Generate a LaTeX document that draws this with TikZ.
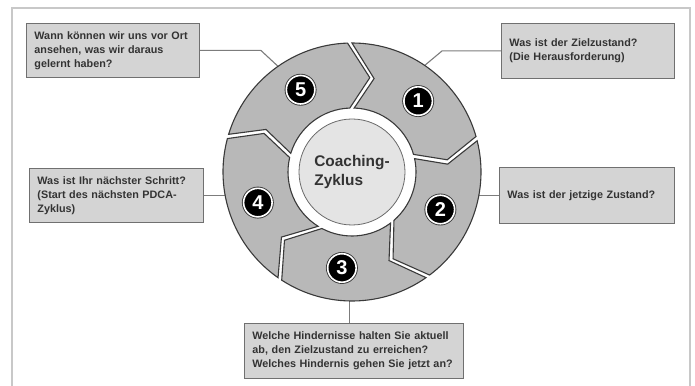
\documentclass[tikz,border=0pt]{standalone}
\usepackage{fontspec}
\setmainfont{Liberation Sans}
\usetikzlibrary{calc}
\definecolor{seggray}{HTML}{B8B8B8}
\definecolor{segline}{HTML}{3A3A3A}
\definecolor{boxfill}{HTML}{D4D4D4}
\definecolor{boxline}{HTML}{707070}
\definecolor{txt}{HTML}{333333}
\definecolor{hubfill}{HTML}{E4E4E4}
\definecolor{hubline}{HTML}{6A6A6A}
\definecolor{frameg}{HTML}{C8C8C8}
\definecolor{conn}{HTML}{7C7C7C}
\begin{document}
\begin{tikzpicture}[x=1pt,y=1pt,
  seg/.style={fill=seggray, draw=segline, line width=1.1pt, line join=miter},
  qbox/.style={draw=boxline, fill=boxfill, line width=0.9pt, text=txt,
    font=\bfseries\fontsize{10.8}{14}\selectfont, align=left,
    inner xsep=8pt, inner ysep=0pt, anchor=north west},
  conline/.style={draw=conn, line width=1.1pt},
  numc/.style={circle, fill=black, draw=white, line width=1.6pt, text=white,
    font=\bfseries\fontsize{20}{20}\selectfont, inner sep=0pt, minimum size=28.5pt,
    preaction={draw=segline, line width=3.4pt}},
  hub/.style={circle, fill=hubfill, draw=hubline, line width=0.8pt, minimum size=106pt,
    text=txt, font=\bfseries\fontsize{15.4}{19}\selectfont, align=left, inner sep=0pt},
  framest/.style={draw=frameg, line width=2pt}
]
\useasboundingbox (0,0) rectangle (695,385);
\draw[framest] (12,-3) -- (12,377) -- (690,377) -- (690,-3);

\coordinate (c) at (352,213);

% question boxes
\node[qbox, text width=157pt, minimum height=54pt] (b5) at (26,362)
  {Wann können wir uns vor Ort\\ansehen, was wir daraus\\gelernt haben?};
\node[qbox, text width=157pt, minimum height=55pt] (b1) at (501,362)
  {Was ist der Zielzustand?\\(Die Herausforderung)};
\node[qbox, text width=158pt, minimum height=54pt] (b4) at (29,217)
  {Was ist Ihr nächster Schritt?\\(Start des nächsten PDCA-\\Zyklus)};
\node[qbox, text width=159pt, minimum height=56pt] (b2) at (499,218)
  {Was ist der jetzige Zustand?};
\node[qbox, text width=203pt, minimum height=55pt] (b3) at (244,62)
  {Welche Hindernisse halten Sie aktuell\\ab, den Zielzustand zu erreichen?\\Welches Hindernis gehen Sie jetzt an?};

% attachment points on the wheel
\coordinate (w5) at ($(c)+(125:129)$);
\coordinate (w1) at ($(c)+(55.7:129)$);
\coordinate (w4) at ($(c)+(189.8:129)$);
\coordinate (w2) at ($(c)+(-9.4:129)$);
\coordinate (w3) at ($(c)+(-91:129)$);

% connectors
\draw[conline] (b5.east) -- ++(61,0) -- (w5);
\draw[conline] (b1.west) -- ++(-59,0) -- (w1);
\draw[conline] (b4.east) -- (b4.east -| w4);
\draw[conline] (b2.west) -- (b2.west -| w2);
\draw[conline] (b3.north -| w3) -- (w3);

% wheel segments
\foreach \oa/\ta/\ia/\ob/\tb/\ib in {91/78/90/15/6/14, 15/6/14/-54/-66/-51,
   -54/-66/-51/-124/-136/-120, -124/-136/-120/-196/-205/-195, 164/155/165/91/78/90}{
  \draw[seg] ($(c)+(\oa-0.98:129)$)
     arc[start angle=\oa-0.98, end angle=\ob+0.98, radius=129]
     -- ($(c)+(\tb+1.31:96)$) -- ($(c)+(\ib+1.97:64)$)
     arc[start angle=\ib+1.97, end angle=\ia-1.97, radius=64]
     -- ($(c)+(\ta-1.31:96)$) -- cycle;
}

% hub
\node[hub] (hubc) at (c) {Coaching-\\Zyklus};

% numbers
\node[numc] (n1) at ($(c)+(47:97)$) {1};
\node[numc] (n2) at ($(c)+(-23:96)$) {2};
\node[numc] (n3) at ($(c)+(-96:96.5)$) {3};
\node[numc] (n4) at ($(c)+(198:99)$) {4};
\node[numc] (n5) at ($(c)+(122:97)$) {5};
\end{tikzpicture}
\end{document}
